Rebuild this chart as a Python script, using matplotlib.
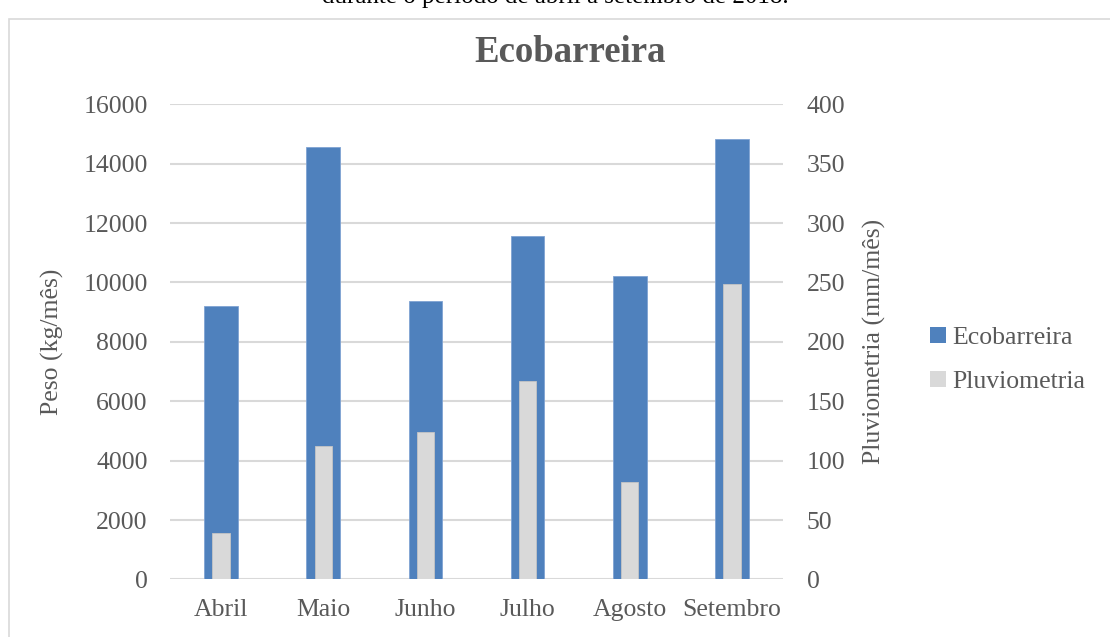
import matplotlib
matplotlib.use("Agg")
import matplotlib.pyplot as plt
from matplotlib.patches import Patch, Rectangle

plt.rcParams["font.family"] = ["Liberation Serif", "DejaVu Serif"]

meses = ["Abril", "Maio", "Junho", "Julho", "Agosto", "Setembro"]
ecobarreira = [9200, 14560, 9360, 11550, 10220, 14840]     # kg/mês
pluviometria = [38.9, 112.4, 124.2, 167.4, 82.4, 248.6]    # mm/mês

AZUL = "#4F81BD"
CINZA = "#D9D9D9"
TEXTO = "#595959"
FS = 18.5

fig = plt.figure(figsize=(11.1, 6.37), dpi=100)
ax = fig.add_axes([0.1532, 0.0903, 0.5522, 0.746])
ax2 = ax.twinx()

x = list(range(len(meses)))
ax.bar(x, ecobarreira, width=0.33, color=AZUL, edgecolor="#7FA3D3", linewidth=0.6, zorder=2)
ax2.bar(x, pluviometria, width=0.17, color=CINZA, edgecolor="#C4C4C4", linewidth=0.6, zorder=2)

ax.set_xlim(-0.5, len(meses) - 0.5)
ax.set_ylim(0, 16000)
ax.set_yticks(range(0, 16001, 2000))
ax2.set_ylim(0, 400)
ax2.set_yticks(range(0, 401, 50))

ax.set_xticks(x)
ax.set_xticklabels(meses)
ax.yaxis.grid(True, color=CINZA, linewidth=1.5, zorder=0)
ax.set_axisbelow(True)

for a in (ax, ax2):
    for s in a.spines.values():
        s.set_visible(False)
    a.tick_params(length=0, labelsize=FS, labelcolor=TEXTO)
ax.tick_params(axis="y", pad=16)
ax2.tick_params(axis="y", pad=17)
ax.tick_params(axis="x", pad=14)

ax.set_ylabel("Peso (kg/mês)", fontsize=FS, color=TEXTO, labelpad=14)
ax2.set_ylabel("Pluviometria (mm/mês)", fontsize=FS, color=TEXTO, labelpad=13)

fig.text(0.5135, 1 - 53 / 637, "Ecobarreira", ha="center", va="center",
         fontsize=26.5, fontweight="bold", color=TEXTO)

# legenda à direita
handles = [Patch(facecolor=AZUL, label="Ecobarreira"),
           Patch(facecolor=CINZA, label="Pluviometria")]
fig.legend(handles=handles, loc="center left", bbox_to_anchor=(920 / 1110, 1 - 360 / 637),
           frameon=False, fontsize=FS, labelcolor=TEXTO, handlelength=0.6,
           handleheight=0.6, handletextpad=0.25, labelspacing=0.85, borderaxespad=0)

# moldura do gráfico
fig.patches.append(Rectangle((9 / 1110, -0.1), 1.2, 1.1 - 19 / 637, transform=fig.transFigure,
                             fill=False, edgecolor="#D9D9D9", linewidth=1.2))

# legenda da figura, cortada no topo
fig.text(0.5, 1 - 3 / 637, "durante o período de abril a setembro de 2018.",
         ha="center", va="baseline", fontsize=18, color="black")

fig.savefig("out.png", dpi=100)
